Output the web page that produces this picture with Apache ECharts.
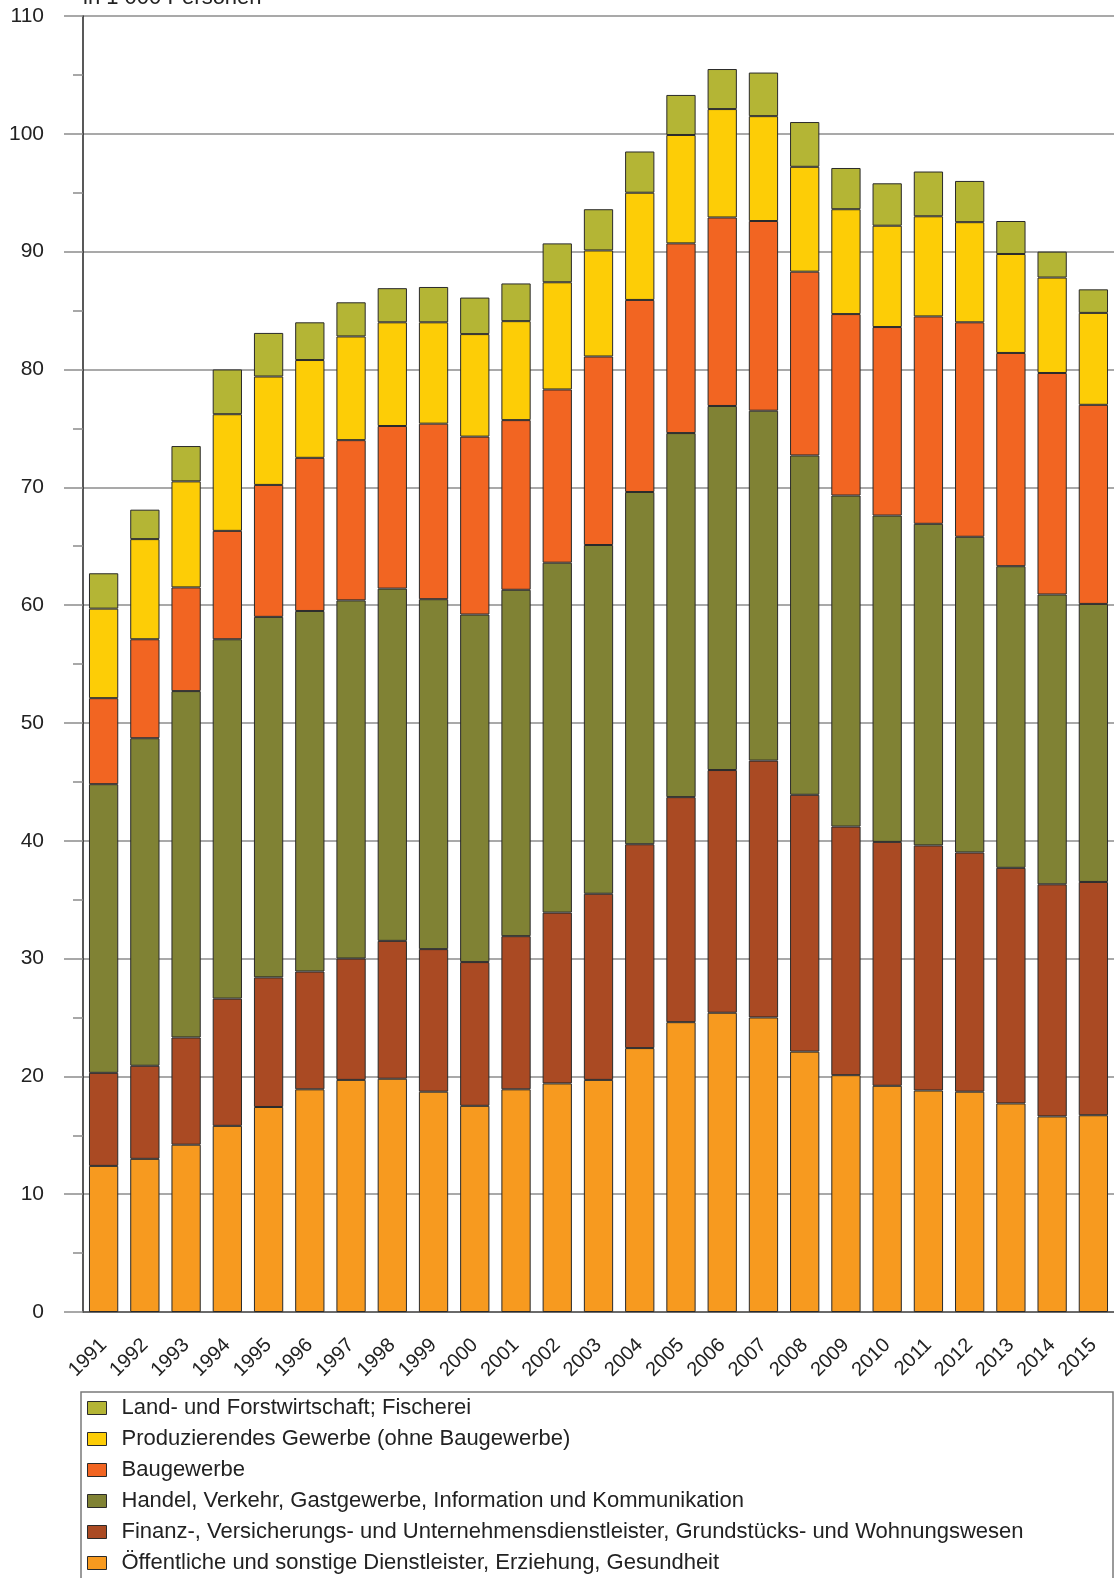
<!DOCTYPE html>
<html>
<head>
<meta charset="utf-8">
<script src="https://cdn.jsdelivr.net/npm/echarts@6/dist/echarts.min.js"></script>
<style>
html,body{margin:0;padding:0;background:#fff;}
#c{width:1114px;height:1578px;}
</style>
</head>
<body>
<div id="c"></div>
<script>
const years = ['1991','1992','1993','1994','1995','1996','1997','1998','1999','2000','2001','2002','2003','2004','2005','2006','2007','2008','2009','2010','2011','2012','2013','2014','2015'];
const yTicks = [0,10,20,30,40,50,60,70,80,90,100,110];

const oeffentliche = [12.4,13.0,14.2,15.8,17.4,18.9,19.7,19.8,18.7,17.5,18.9,19.4,19.7,22.4,24.6,25.4,25.0,22.1,20.1,19.2,18.8,18.7,17.7,16.6,16.7];
const finanz = [7.9,7.9,9.1,10.8,11.0,10.0,10.3,11.7,12.1,12.2,13.0,14.5,15.8,17.3,19.1,20.6,21.8,21.8,21.1,20.7,20.8,20.3,20.0,19.7,19.8];
const handel = [24.5,27.8,29.4,30.5,30.6,30.6,30.4,29.9,29.7,29.5,29.4,29.7,29.6,29.9,30.9,30.9,29.7,28.8,28.1,27.7,27.3,26.8,25.6,24.6,23.6];
const bau = [7.3,8.4,8.8,9.2,11.2,13.0,13.6,13.8,14.9,15.1,14.4,14.7,16.0,16.3,16.1,16.0,16.1,15.6,15.4,16.0,17.6,18.2,18.1,18.8,16.9];
const produzierend = [7.6,8.5,9.0,9.9,9.2,8.3,8.8,8.8,8.6,8.7,8.4,9.1,9.0,9.1,9.2,9.2,8.9,8.9,8.9,8.6,8.5,8.5,8.4,8.1,7.8];
const land = [3.0,2.5,3.0,3.8,3.7,3.2,2.9,2.9,3.0,3.1,3.2,3.3,3.5,3.5,3.4,3.4,3.7,3.8,3.5,3.6,3.8,3.5,2.8,2.2,2.0];

const names = {
  land: 'Land- und Forstwirtschaft; Fischerei',
  prod: 'Produzierendes Gewerbe (ohne Baugewerbe)',
  bau: 'Baugewerbe',
  handel: 'Handel, Verkehr, Gastgewerbe, Information und Kommunikation',
  fin: 'Finanz-, Versicherungs- und Unternehmensdienstleister, Grundstücks- und Wohnungswesen',
  oeff: 'Öffentliche und sonstige Dienstleister, Erziehung, Gesundheit'
};
const colors = {
  land: '#b4b535', prod: '#fdcd06', bau: '#f26522',
  handel: '#808234', fin: '#aa4a23', oeff: '#f79a1f'
};

const FONT = '"Liberation Sans", Arial, sans-serif';
const chart = echarts.init(document.getElementById('c'), null, {renderer: 'canvas'});

function mk(key, data) {
  return {
    name: names[key], type: 'bar', stack: 'total', data: data,
    barWidth: '71%',
    itemStyle: {color: colors[key], borderColor: '#2a2a2a', borderWidth: 1},
    emphasis: {disabled: true}
  };
}

chart.setOption({
  animation: false,
  backgroundColor: '#fff',
  textStyle: {fontFamily: FONT},
  grid: {left: 83, right: 0, top: 16, bottom: 266, containLabel: false},
  graphic: [
    {type: 'text', left: 83, top: -13, style: {text: 'in 1 000 Personen', font: '22px ' + FONT, fill: '#222'}},
    {type: 'rect', shape: {x: 81, y: 1392, width: 1032, height: 200}, style: {fill: 'none', stroke: '#7a7a7a', lineWidth: 1.5}, z: 0}
  ],
  legend: {
    orient: 'vertical', left: 87, top: 1397, padding: 0,
    itemWidth: 19, itemHeight: 13, itemGap: 9,
    icon: 'rect',
    itemStyle: {borderColor: '#2a2a2a', borderWidth: 1},
    textStyle: {fontSize: 22, lineHeight: 22, color: '#222', fontFamily: FONT, padding: [0,0,0,10]},
    data: [names.land, names.prod, names.bau, names.handel, names.fin, names.oeff]
  },
  xAxis: {
    type: 'category', data: years,
    axisLine: {show: true, lineStyle: {color: '#555', width: 1.5}},
    axisTick: {show: false},
    axisLabel: {rotate: 45, fontSize: 20, color: '#222', margin: 30, interval: 0, fontFamily: FONT}
  },
  yAxis: {
    type: 'value', min: yTicks[0], max: yTicks[yTicks.length-1], interval: 10,
    axisLine: {show: true, lineStyle: {color: '#222', width: 1.5}},
    axisTick: {show: true, length: 19, lineStyle: {color: '#8c8c8c', width: 1.5}},
    minorTick: {show: true, splitNumber: 2, length: 10, lineStyle: {color: '#8c8c8c', width: 1.5}},
    splitLine: {show: true, lineStyle: {color: '#8c8c8c', width: 1.5}},
    axisLabel: {fontSize: 21, color: '#222', margin: 39, fontFamily: FONT}
  },
  series: [
    mk('oeff', oeffentliche),
    mk('fin', finanz),
    mk('handel', handel),
    mk('bau', bau),
    mk('prod', produzierend),
    mk('land', land)
  ]
});
</script>
</body>
</html>
